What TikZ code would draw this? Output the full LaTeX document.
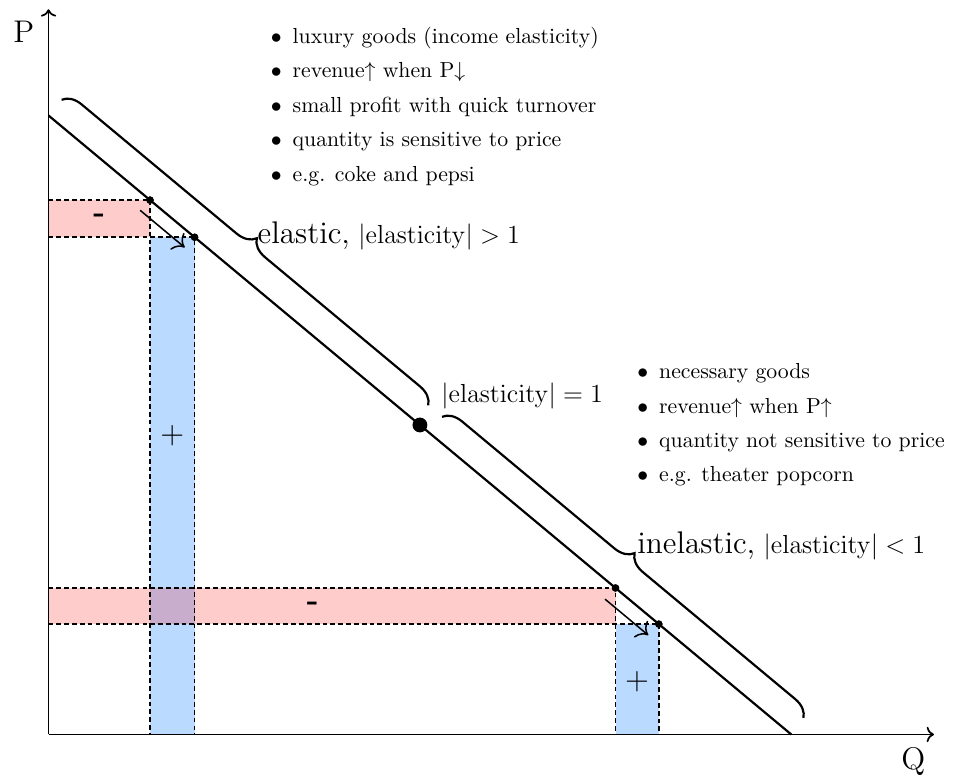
\documentclass[tikz,border=0pt]{standalone}
\usetikzlibrary{decorations.pathreplacing,calc,arrows.meta}
\definecolor{gainblue}{RGB}{187,218,255}
\begin{document}
\begin{tikzpicture}[
  axis/.style={line width=0.8pt,->},
  demand/.style={line width=1pt},
  bracestyle/.style={line width=1pt, decorate, decoration={brace, amplitude=0.3cm, raise=0.33cm}},
  guide/.style={line width=0.7pt, dash pattern=on 2.2pt off 1.4pt},
  gain/.style={fill=gainblue},
  loss/.style={fill=red, fill opacity=0.2},
  dotsmall/.style={circle, fill=black, inner sep=0pt, minimum size=0.12cm},
  dotbig/.style={circle, fill=black, inner sep=0pt, minimum size=0.24cm},
  move/.style={-{To[scale=1.5]}, line width=0.7pt},
  item/.style={anchor=base west, inner sep=0pt, font=\normalsize},
  lab/.style={anchor=base west, inner sep=0pt, font=\large},
  sign/.style={inner sep=0pt, font=\Large},
]
\useasboundingbox (-0.784,-0.670) rectangle (14.661,11.866);

\coordinate (O) at (0,0);
\coordinate (A) at (0,10);
\coordinate (B) at (12,0);
\coordinate (ytop) at (0,11.716);
\coordinate (xend) at (14.305,0);

% fills
\fill[gain] (1.64,0) rectangle (2.36,8.0333);
\fill[gain] (9.16,0) rectangle (9.86,1.7833);
\fill[loss] (0,8.0333) rectangle (1.64,8.6333);
\fill[loss] (0,1.7833) rectangle (9.16,2.3667);

% points on the demand line
\node[dotsmall] (d1) at (1.64,8.6333) {};
\node[dotsmall] (d2) at (2.36,8.0333) {};
\node[dotsmall] (d3) at (9.16,2.3667) {};
\node[dotsmall] (d4) at (9.86,1.7833) {};

% dashed guides
\draw[guide] (0,8.6333) -- (d1.center) -- (1.64,0);
\draw[guide] (0,8.0333) -- (d2.center) -- (2.36,0);
\draw[guide] (0,2.3667) -- (d3.center) -- (9.16,0);
\draw[guide] (0,1.7833) -- (d4.center) -- (9.86,0);

% axes
\draw[axis] (O) -- (ytop);
\draw[axis] (O) -- (xend);
\node[font=\Large, anchor=base] (P) at (-0.40,11.183) {P};
\node[font=\Large, anchor=base] (Q) at (13.971,-0.57) {Q};

% demand line
\draw[demand] (A) -- (B);
\node[dotsmall] at (d1) {};
\node[dotsmall] at (d2) {};
\node[dotsmall] at (d3) {};
\node[dotsmall] at (d4) {};
\node[dotbig] (mid) at (6,5) {};

% movement arrows
\draw[move] ([shift={(-0.16,-0.165)}]d1.center) -- ([shift={(-0.16,-0.165)}]d2.center);
\draw[move] ([shift={(-0.17,-0.18)}]d3.center) -- ([shift={(-0.17,-0.18)}]d4.center);

% braces
\coordinate (b1s) at (0,10);
\coordinate (b1e) at (5.923,5.064);
\coordinate (b2s) at (6.146,4.878);
\coordinate (b2e) at (11.984,0.013);
\draw[bracestyle] (b1s) -- (b1e);
\draw[bracestyle] (b2s) -- (b2e);

% brace labels
\node[lab] (el) at (3.373,7.935) {{\Large elastic,} $|\mathrm{elasticity}|>1$};
\node[lab] (un) at (6.341,5.360) {$|\mathrm{elasticity}|=1$};
\node[lab] (inel) at (9.507,2.916) {{\Large inelastic,} $|\mathrm{elasticity}|<1$};

% signs
\node[sign, font=\Large\bfseries] (m1) at (0.82,8.333) {-};
\node[sign, font=\Large\bfseries] (m2) at (4.27,2.075) {-};
\node[sign] (p1) at (2.0,4.82) {$+$};
\node[sign] (p2) at (9.51,0.86) {$+$};

% lists
\node[item] (t1) at (3.586,11.166) {$\bullet$\hspace{5pt}luxury goods (income elasticity)};
\node[item] (t2) at (3.586,10.609) {$\bullet$\hspace{5pt}revenue$\uparrow$ when P$\downarrow$};
\node[item] (t3) at (3.586,10.052) {$\bullet$\hspace{5pt}small profit with quick turnover};
\node[item] (t4) at (3.586,9.495) {$\bullet$\hspace{5pt}quantity is sensitive to price};
\node[item] (t5) at (3.586,8.937) {$\bullet$\hspace{5pt}e.g. coke and pepsi};

\node[item] (u1) at (9.507,5.743) {$\bullet$\hspace{5pt}necessary goods};
\node[item] (u2) at (9.507,5.189) {$\bullet$\hspace{5pt}revenue$\uparrow$ when P$\uparrow$};
\node[item] (u3) at (9.507,4.640) {$\bullet$\hspace{5pt}quantity not sensitive to price};
\node[item] (u4) at (9.507,4.084) {$\bullet$\hspace{5pt}e.g. theater popcorn};
\end{tikzpicture}
\end{document}
